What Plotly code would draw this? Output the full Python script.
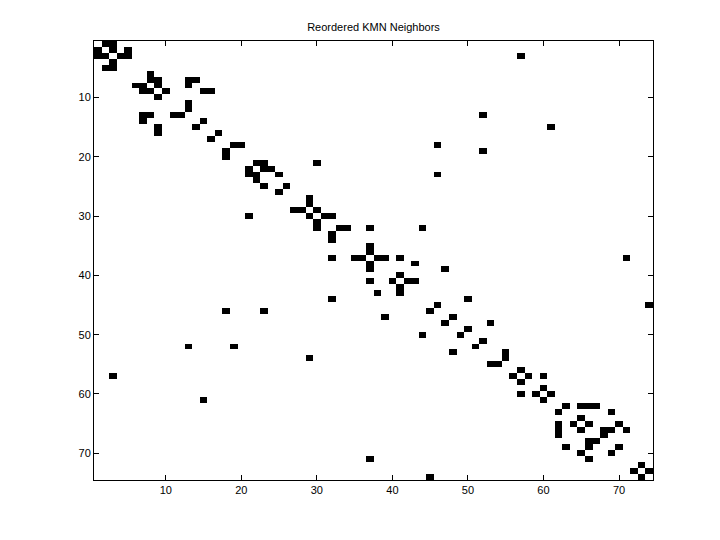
import numpy as np
import plotly.graph_objects as go

# neighbours of each node (row i+1 -> list of column indices, 1-based)
neighbors = [
    [2, 3], [1, 3, 5], [1, 2, 4, 5, 57], [3], [2, 3],
    [8], [8, 9, 13, 14], [6, 7, 9, 13], [7, 8, 10, 15, 16], [9],
    [13], [13], [7, 8, 11, 12, 52], [7, 15], [9, 14, 61],
    [9, 17], [16], [19, 20, 46], [18, 52], [18],
    [22, 23, 30], [21, 23, 24], [21, 22, 25, 46], [22], [23, 26],
    [25], [29], [29], [27, 28, 30], [21, 29, 31, 32],
    [30], [30, 33, 34, 37, 44], [32], [32], [37],
    [37], [32, 35, 36, 38, 39, 41, 71], [37, 43], [37, 47], [41],
    [37, 40, 42, 43], [41], [38, 41], [32, 50], [46, 74],
    [18, 23, 45], [39, 48], [47, 53], [50], [44, 49],
    [52], [13, 19, 51], [48, 55], [29, 55], [53, 54],
    [57], [3, 56, 58, 60], [57], [60], [57, 59, 61],
    [15, 60], [63, 65, 66, 67], [62, 69], [65], [62, 64, 66, 70],
    [62, 65, 68, 69, 71], [62, 68], [66, 67], [63, 66, 70], [65, 69],
    [37, 66], [73], [72, 74], [45, 73],
]

n = len(neighbors)
z = np.zeros((n, n))
for i, cols in enumerate(neighbors):
    for c in cols:
        z[i, c - 1] = 1

idx = list(range(1, n + 1))
fig = go.Figure(go.Heatmap(
    z=z, x=idx, y=idx,
    colorscale=[[0, 'white'], [1, 'black']],
    showscale=False, hoverinfo='skip'))

axis_style = dict(showgrid=False, zeroline=False, showline=True, linecolor='black',
                  linewidth=1, mirror='allticks', ticks='inside', ticklen=5,
                  tickcolor='black', tickvals=[10, 20, 30, 40, 50, 60, 70],
                  tickfont=dict(family='Liberation Sans, Arial', size=11, color='black'))
fig.update_xaxes(range=[0.5, n + 0.5], **axis_style)
fig.update_yaxes(range=[n + 0.5, 0.5], **axis_style)

# page body has an 8px margin, so the margins are shifted to keep the axes in place
fig.update_layout(
    width=720, height=540,
    margin=dict(l=86, r=75, t=33, b=68),
    paper_bgcolor='white', plot_bgcolor='white',
    title=dict(text='Reordered KMN Neighbors', x=0.5, xref='paper',
               y=1 - 19 / 540, yref='container', yanchor='middle',
               font=dict(family='Liberation Sans, Arial', size=11, color='black')),
)

fig.write_html("out.html")
